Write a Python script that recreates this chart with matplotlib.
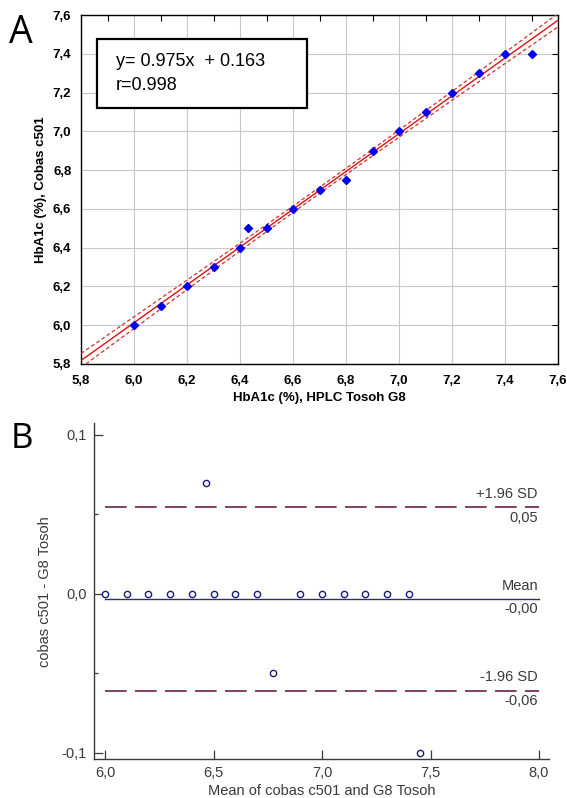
import numpy as np
import matplotlib
matplotlib.use("Agg")
import matplotlib.pyplot as plt
from matplotlib.patches import Rectangle
from matplotlib.ticker import MultipleLocator, FixedLocator

# ---------------- data ----------------
hplc_g8 = [6.0, 6.1, 6.2, 6.3, 6.4, 6.43, 6.5, 6.6, 6.7, 6.8, 6.9, 7.0, 7.1, 7.2, 7.3, 7.4, 7.5]
cobas_c501 = [6.0, 6.1, 6.2, 6.3, 6.4, 6.5, 6.5, 6.6, 6.7, 6.75, 6.9, 7.0, 7.1, 7.2, 7.3, 7.4, 7.4]
slope = 0.975
intercept = 0.163
r_value = 0.998
t_crit = 2.131  # t(0.975, df=15)

ba_mean = [6.0, 6.1, 6.2, 6.3, 6.4, 6.465, 6.5, 6.6, 6.7, 6.775, 6.9, 7.0, 7.1, 7.2, 7.3, 7.4, 7.45]
ba_diff = [0.0, 0.0, 0.0, 0.0, 0.0, 0.07, 0.0, 0.0, 0.0, -0.05, 0.0, 0.0, 0.0, 0.0, 0.0, 0.0, -0.1]
mean_diff = -0.003
upper_loa = 0.0545
lower_loa = -0.0608
loa_labels = {"upper": ("+1.96 SD", "0,05"), "mean": ("Mean", "-0,00"), "lower": ("-1.96 SD", "-0,06")}

W, H = 567, 798
fig = plt.figure(figsize=(W / 100, H / 100), dpi=100)
fig.patch.set_facecolor("white")

def fx(px):
    return px / W

def fy(py):
    return 1 - py / H

# ---------------- Panel A ----------------
axA = fig.add_axes([fx(81), fy(364), (558 - 81) / W, (364 - 15) / H])
axA.set_xlim(5.8, 7.6)
axA.set_ylim(5.8, 7.6)
axA.xaxis.set_major_locator(MultipleLocator(0.2))
axA.yaxis.set_major_locator(MultipleLocator(0.2))
axA.xaxis.set_minor_locator(FixedLocator(np.arange(5.9, 7.6, 0.2)))
axA.grid(True, which="major", color="#c8c8c8", lw=0.8)
axA.set_axisbelow(True)
for sp in axA.spines.values():
    sp.set_color("black")
    sp.set_linewidth(1.0)

tick_font = dict(family="Liberation Sans", weight="bold", size=9.5)
axA.tick_params(which="major", left=False, bottom=False, right=True, top=False,
                direction="in", length=4, width=0.8, labelleft=True, labelbottom=True)
axA.tick_params(axis="y", which="major", pad=7)
axA.tick_params(axis="x", which="major", pad=8)
axA.tick_params(which="minor", top=True, bottom=False, left=False, right=False,
                direction="in", length=4, width=0.8)
fmt = lambda v, p: f"{v:.1f}".replace(".", ",")
axA.xaxis.set_major_formatter(plt.FuncFormatter(fmt))
axA.yaxis.set_major_formatter(plt.FuncFormatter(fmt))
for lab in axA.get_xticklabels() + axA.get_yticklabels():
    lab.set_fontproperties(matplotlib.font_manager.FontProperties(**tick_font))

x = np.array(hplc_g8)
y = np.array(cobas_c501)
n = len(x)
resid = y - (slope * x + intercept)
s = np.sqrt(np.sum(resid ** 2) / (n - 2))
sxx = np.sum((x - x.mean()) ** 2)
xs = np.linspace(5.8, 7.6, 200)
yfit = slope * xs + intercept
band = t_crit * s * np.sqrt(1 / n + (xs - x.mean()) ** 2 / sxx)
axA.plot(xs, yfit, color="#e01010", lw=1.0, zorder=3)
axA.plot(xs, yfit + band, color="#d03030", lw=0.9, ls=(0, (3, 2)), zorder=3)
axA.plot(xs, yfit - band, color="#d03030", lw=0.9, ls=(0, (3, 2)), zorder=3)
axA.plot(x, y, ls="none", marker="D", ms=4, color="#0000f0", mec="#0000f0", zorder=4)

axA.add_patch(Rectangle(((97 - 81) / 477, 1 - (108 - 15) / 349), (307 - 97) / 477, (108 - 39) / 349,
                        transform=axA.transAxes, fill=True, facecolor="white",
                        edgecolor="black", lw=1.6, zorder=5))
axA.text((116 - 81) / 477, 1 - (61 - 15) / 349, f"y= {slope}x  + {intercept}",
         transform=axA.transAxes, va="center", ha="left", fontsize=13,
         family="Liberation Sans", zorder=6)
axA.text((116 - 81) / 477, 1 - (86 - 15) / 349, f"r={r_value}",
         transform=axA.transAxes, va="center", ha="left", fontsize=13,
         family="Liberation Sans", zorder=6)

fig.text(fx(41), fy(190), "HbA1c (%), Cobas c501", rotation=90, ha="center", va="center",
         family="Liberation Sans", weight="bold", size=9.5)
fig.text(fx(319), fy(398), "HbA1c (%), HPLC Tosoh G8", ha="center", va="center",
         family="Liberation Sans", weight="bold", size=9.5)
fig.text(fx(9), fy(14), "A", ha="left", va="top", family="Open Sans", size=27)

# ---------------- Panel B ----------------
gray = "#3a3a3a"
axB = fig.add_axes([fx(94), fy(759), (549 - 94) / W, (759 - 423) / H])
axB.set_xlim(5.949, 8.046)
axB.set_ylim(-0.1038, 0.1075)
for side in ["top", "right"]:
    axB.spines[side].set_visible(False)
for side in ["left", "bottom"]:
    axB.spines[side].set_color(gray)
    axB.spines[side].set_linewidth(1.0)
axB.set_xticks([6.0, 6.5, 7.0, 7.5, 8.0])
axB.set_yticks([-0.1, 0.0, 0.1])
axB.set_yticks([-0.05, 0.05], minor=True)
axB.tick_params(which="major", direction="in", length=6.5, width=0.9, color=gray,
                labelcolor=gray, labelsize=10.5, pad=5)
axB.tick_params(which="minor", direction="in", length=3, width=0.9, color=gray)
axB.xaxis.set_major_formatter(plt.FuncFormatter(fmt))
axB.yaxis.set_major_formatter(plt.FuncFormatter(fmt))
for lab in axB.get_xticklabels() + axB.get_yticklabels():
    lab.set_family("Liberation Sans")

line_col = "#6a2045"
axB.plot([6.0, 8.0], [upper_loa, upper_loa], color=line_col, lw=1.2, ls=(0, (13, 5)))
axB.plot([6.0, 8.0], [lower_loa, lower_loa], color=line_col, lw=1.2, ls=(0, (13, 5)))
axB.plot([6.0, 8.0], [mean_diff, mean_diff], color="#2e2e5e", lw=1.0)
axB.plot(ba_mean, ba_diff, ls="none", marker="o", ms=4.5, mfc="white", mec="#1c1c78", mew=1.0,
         zorder=4)

for val, key in [(upper_loa, "upper"), (mean_diff, "mean"), (lower_loa, "lower")]:
    top, bot = loa_labels[key]
    axB.annotate(top, (7.995, val), xytext=(0, 9.5), textcoords="offset points",
                 ha="right", va="center", fontsize=10.5, color=gray, family="Liberation Sans")
    axB.annotate(bot, (7.995, val), xytext=(0, -7.5), textcoords="offset points",
                 ha="right", va="center", fontsize=10.5, color=gray, family="Liberation Sans")

fig.text(fx(45), fy(592), "cobas c501 - G8 Tosoh", rotation=90, ha="center", va="center",
         family="Liberation Sans", size=10.5, color=gray)
fig.text(fx(322), fy(791), "Mean of cobas c501 and G8 Tosoh", ha="center", va="center",
         family="Liberation Sans", size=10.5, color=gray)
fig.text(fx(11), fy(422), "B", ha="left", va="top", family="Open Sans", size=25)

fig.savefig("out.png", dpi=100, facecolor="white")
